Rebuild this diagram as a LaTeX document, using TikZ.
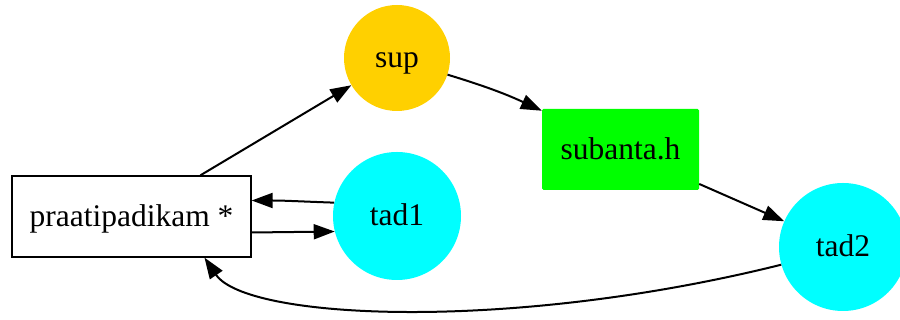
\documentclass[tikz,border=0pt]{standalone}
\usepackage{fontspec}
\setmainfont{Liberation Serif}
\usetikzlibrary{arrows.meta}

\begin{document}
\begin{tikzpicture}[x=1pt, y=1pt,
  every node/.style={font=\fontsize{31.5}{37}\selectfont, inner sep=0pt, text height=20pt, text depth=0pt},
  box/.style={rectangle, draw=black, line width=1.3pt, fill=white},
  ball/.style={circle},
  edge/.style={line width=2pt, -{Triangle[length=21pt, width=15pt]}}]
  \definecolor{supgold}{RGB}{255,208,0}
  \definecolor{tadcyan}{RGB}{0,255,255}
  \definecolor{subgreen}{RGB}{0,255,0}
  \useasboundingbox (0, 0) rectangle (900, 320);
  \node [box, minimum width=239pt, minimum height=81pt] (prat) at (131.5, 103.5) {praatipadikam *};
  \node [ball, fill=supgold, minimum size=106pt] (sup) at (397, 262) {sup};
  \node [ball, fill=tadcyan, minimum size=128pt] (tad1) at (397, 104) {tad1};
  \node [rectangle, rounded corners=1.5pt, fill=subgreen, minimum width=157pt, minimum height=81pt] (sub) at (620.5, 170.5) {subanta.h};
  \node [ball, fill=tadcyan, minimum size=128pt] (tad2) at (843, 73) {tad2};
  % edges
  \draw [edge] (prat) -- (sup);
  \draw [edge] (sup) to [bend left=4] (sub);
  \draw [edge] (sub) -- (tad2);
  \draw [edge] (tad1.168) to [out=178, in=0] ([yshift=16pt]prat.east);
  \draw [edge] ([yshift=-16pt]prat.east) -- (tad1.194);
  \draw [edge] (tad2.196) .. controls +(194:280) and +(-56:75) .. ([xshift=73pt]prat.south);
\end{tikzpicture}
\end{document}
